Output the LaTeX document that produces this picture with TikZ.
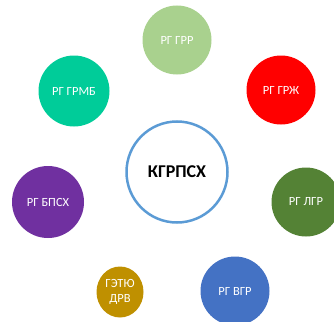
\documentclass[tikz,border=0pt]{standalone}
\usepackage{fontspec}
\setmainfont{Carlito}
\usetikzlibrary{shapes.geometric}
\definecolor{cgrr}{HTML}{A9D18E}
\definecolor{cgrzh}{HTML}{FF0000}
\definecolor{cgrmb}{HTML}{00CC99}
\definecolor{cbpsh}{HTML}{7030A0}
\definecolor{clgr}{HTML}{548235}
\definecolor{cvgr}{HTML}{4472C4}
\definecolor{cget}{HTML}{BF9000}
\definecolor{ccenter}{HTML}{5B9BD5}
\begin{document}
\begin{tikzpicture}[x=1pt,y=-1pt,
  bubble/.style={circle,inner sep=0pt,text=white,font=\fontsize{12.5}{15}\selectfont,align=center},
  hub/.style={circle,inner sep=0pt,draw=ccenter,line width=2.5pt,fill=white,font=\bfseries\fontsize{18}{20}\selectfont}]
\useasboundingbox (0,0) rectangle (334,321);
\node[hub,minimum size=101pt] (c) at (177,172) {КГРПСХ};
\node[bubble,fill=cgrr,minimum size=69pt] (grr) at (177,40) {РГ ГРР};
\node[bubble,fill=cgrzh,minimum size=69pt] (grzh) at (281,90) {РГ ГРЖ};
\node[bubble,fill=cgrmb,minimum size=71pt] (grmb) at (74,91) {РГ ГРМБ};
\node[bubble,fill=cbpsh,minimum size=72pt] (bpsh) at (48,202) {РГ БПСХ};
\node[bubble,fill=clgr,minimum size=69pt] (lgr) at (306,202) {РГ ЛГР};
\node[bubble,fill=cvgr,minimum size=69pt] (vgr) at (235,291) {РГ ВГР};
\node[ellipse,inner sep=0pt,fill=cget,minimum width=47pt,minimum height=51pt,text=white,font=\fontsize{12.5}{15}\selectfont,align=center] (get) at (120,292) {ГЭТЮ\\ДРВ};
\end{tikzpicture}
\end{document}
